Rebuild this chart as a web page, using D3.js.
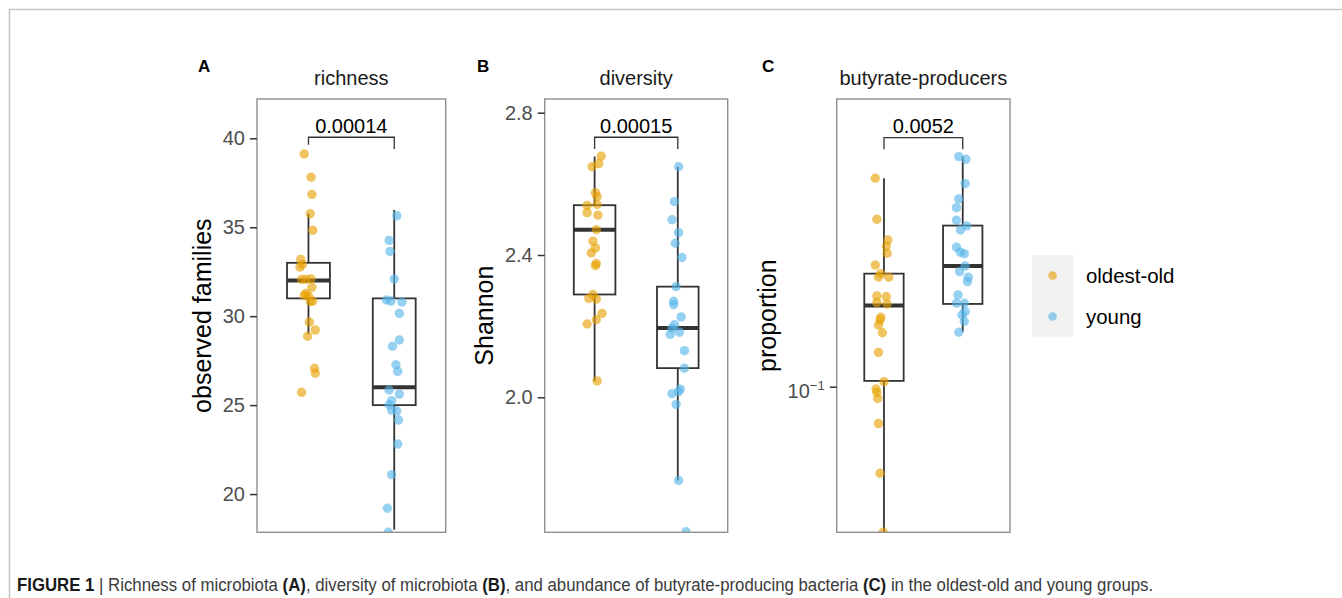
<!DOCTYPE html>
<html><head><meta charset="utf-8">
<script src="https://cdn.jsdelivr.net/npm/d3@7"></script>
<style>
html,body{margin:0;padding:0;background:#fff;}
svg{display:block;font-family:"Liberation Sans",Arial,Helvetica,sans-serif;}
</style></head><body>
<svg id="chart" width="1342" height="598"></svg>
<script>
// ---------------- data ----------------
const groups = ["oldest-old", "young"];
const groupColors = ["#E69F00", "#56B4E9"];
const panelTitles = ["richness", "diversity", "butyrate-producers"];
const panelLetters = ["A", "B", "C"];
const yTitles = ["observed families", "Shannon", "proportion"];
const pLabels = ["0.00014", "0.00015", "0.0052"];

const richnessTicks = [20, 25, 30, 35, 40];
const diversityTicks = [2.0, 2.4, 2.8];
const butyrateTicks = [0.1];

const richnessDomain = [17.85, 42.21];
const diversityDomain = [1.6205, 2.8385];
const butyrateDomain = [0.04747, 0.4357];

// boxplot stats: [lower whisker, Q1, median, Q3, upper whisker]
const richnessBoxOld = [29.0, 31, 32, 33, 35.76];
const richnessBoxYoung = [18.0, 25, 26, 31, 35.97];
const diversityBoxOld = [2.046, 2.289, 2.471, 2.54, 2.677];
const diversityBoxYoung = [1.766, 2.082, 2.195, 2.311, 2.648];
const butyrateBoxOld = [0.046, 0.103, 0.1514, 0.1783, 0.2904];
const butyrateBoxYoung = [0.1325, 0.1527, 0.1854, 0.228, 0.3245];

// significance bracket heights (data units)
const richnessBracket = 40.06;
const diversityBracket = 2.731;
const butyrateBracket = 0.3576;

// individual samples (value) and horizontal jitter (category units)
const richnessOld = [39.12, 37.82, 36.85, 35.76, 34.83, 33.19, 32.91, 32.76, 32.07, 32.07, 32.1, 31.62, 31.28, 31.17, 31.13, 30.85, 30.83, 29.67, 29.22, 28.87, 27.07, 26.79, 25.72];
const richnessOldJitter = [-0.05, 0.03, 0.04, 0.02, 0.05, -0.09, -0.07, -0.10, -0.08, -0.03, 0.03, 0.04, -0.03, -0.05, 0.0, 0.05, 0.02, 0.01, 0.08, -0.01, 0.07, 0.08, -0.08];
const richnessYoung = [35.65, 34.26, 33.64, 32.09, 30.91, 30.85, 30.8, 30.16, 28.66, 28.31, 27.27, 26.9, 25.85, 25.62, 25.25, 25.02, 24.72, 24.67, 24.16, 22.81, 21.09, 19.2, 17.85];
const richnessYoungJitter = [0.03, -0.06, -0.05, 0.0, -0.09, -0.04, 0.09, 0.06, 0.06, -0.02, 0.02, 0.04, -0.06, 0.06, -0.03, -0.06, -0.03, 0.03, 0.05, 0.04, -0.03, -0.08, -0.07];

const diversityOld = [2.678, 2.657, 2.648, 2.575, 2.564, 2.539, 2.542, 2.519, 2.512, 2.471, 2.439, 2.42, 2.406, 2.376, 2.37, 2.289, 2.278, 2.276, 2.236, 2.218, 2.206, 2.046];
const diversityOldJitter = [0.08, 0.05, -0.03, 0.01, 0.03, -0.09, 0.03, -0.09, 0.04, 0.02, -0.02, 0.01, -0.04, 0.02, 0.01, -0.02, -0.07, 0.02, 0.09, 0.02, -0.09, 0.03];
const diversityYoung = [2.648, 2.55, 2.499, 2.463, 2.433, 2.393, 2.311, 2.27, 2.26, 2.226, 2.204, 2.194, 2.183, 2.177, 2.131, 2.082, 2.023, 2.016, 2.01, 1.98, 1.766, 1.622];
const diversityYoungJitter = [0.01, -0.04, -0.07, 0.01, -0.03, 0.05, -0.02, -0.05, -0.05, 0.04, -0.04, -0.07, 0.02, -0.09, 0.08, 0.08, 0.03, 0.01, -0.07, -0.02, 0.01, 0.10];

const butyrateOld = [0.2904, 0.2355, 0.2118, 0.2051, 0.1979, 0.1864, 0.1783, 0.1753, 0.1751, 0.1591, 0.1586, 0.1537, 0.1527, 0.1426, 0.1406, 0.1371, 0.1318, 0.1192, 0.1026, 0.0988, 0.0970, 0.0942, 0.0828, 0.0642, 0.0475];
const butyrateOldJitter = [-0.11, -0.09, 0.05, 0.03, 0.04, -0.11, -0.04, -0.07, 0.06, -0.09, 0.03, -0.09, 0.04, -0.04, -0.05, -0.07, -0.02, -0.07, 0.0, -0.10, -0.09, -0.08, -0.07, -0.05, -0.01];
const butyrateYoung = [0.3245, 0.320, 0.2826, 0.2613, 0.2499, 0.2343, 0.2276, 0.2229, 0.2041, 0.1989, 0.1975, 0.1854, 0.1801, 0.1751, 0.1712, 0.1599, 0.1532, 0.1532, 0.1468, 0.1443, 0.1397, 0.1321];
const butyrateYoungJitter = [-0.05, 0.04, 0.03, -0.05, -0.08, -0.08, 0.05, -0.03, -0.08, -0.03, 0.02, 0.03, -0.04, 0.07, 0.06, -0.06, -0.08, 0.02, 0.03, -0.01, 0.02, -0.05];

const captionParts = [
  ["FIGURE 1", true], [" | Richness of microbiota ", false], ["(A)", true],
  [", diversity of microbiota ", false], ["(B)", true],
  [", and abundance of butyrate-producing bacteria ", false], ["(C)", true],
  [" in the oldest-old and young groups.", false]
];

// ---------------- drawing ----------------
const svg = d3.select("#chart");

// outer figure frame
svg.append("rect").attr("x", 9.5).attr("y", 9.5).attr("width", 1400).attr("height", 700)
  .attr("fill", "none").attr("stroke", "#c4c4c4").attr("stroke-width", 1.5);

const panels = [
  { left: 257, right: 445.7, letterX: 198, domain: richnessDomain, ticks: richnessTicks, log: false,
    boxes: [richnessBoxOld, richnessBoxYoung], pts: [[richnessOld, richnessOldJitter], [richnessYoung, richnessYoungJitter]],
    bracket: richnessBracket, tips: [7.5, 11.7] },
  { left: 544.7, right: 727.7, letterX: 477, domain: diversityDomain, ticks: diversityTicks, log: false,
    boxes: [diversityBoxOld, diversityBoxYoung], pts: [[diversityOld, diversityOldJitter], [diversityYoung, diversityYoungJitter]],
    bracket: diversityBracket, tips: [11.7, 11.7], fmt: d3.format(".1f") },
  { left: 836.7, right: 1010, letterX: 762, domain: butyrateDomain, ticks: butyrateTicks, log: true,
    boxes: [butyrateBoxOld, butyrateBoxYoung], pts: [[butyrateOld, butyrateOldJitter], [butyrateYoung, butyrateYoungJitter]],
    bracket: butyrateBracket, tips: [11.7, 11.7] }
];
const panelTop = 99, panelBottom = 532.3;
const defs = svg.append("defs");

panels.forEach((p, pi) => {
  const x = d3.scaleLinear().domain([0.4, 2.6]).range([p.left, p.right]);
  const y = (p.log ? d3.scaleLog() : d3.scaleLinear()).domain(p.domain).range([panelBottom, panelTop]);
  const g = svg.append("g");

  defs.append("clipPath").attr("id", "clip" + pi).append("rect")
    .attr("x", p.left).attr("y", panelTop).attr("width", p.right - p.left).attr("height", panelBottom - panelTop);
  const inner = g.append("g").attr("clip-path", `url(#clip${pi})`);

  // boxplots
  p.boxes.forEach((b, gi) => {
    const cx = x(gi + 1), x0 = x(gi + 1 - 0.25), x1 = x(gi + 1 + 0.25);
    inner.append("line").attr("x1", cx).attr("x2", cx).attr("y1", y(b[0])).attr("y2", y(b[1]))
      .attr("stroke", "#333").attr("stroke-width", 1.8);
    inner.append("line").attr("x1", cx).attr("x2", cx).attr("y1", y(b[3])).attr("y2", y(b[4]))
      .attr("stroke", "#333").attr("stroke-width", 1.8);
    inner.append("rect").attr("x", x0).attr("y", y(b[3])).attr("width", x1 - x0).attr("height", y(b[1]) - y(b[3]))
      .attr("fill", "none").attr("stroke", "#333").attr("stroke-width", 1.8);
    inner.append("line").attr("x1", x0).attr("x2", x1).attr("y1", y(b[2])).attr("y2", y(b[2]))
      .attr("stroke", "#333").attr("stroke-width", 4);
  });

  // jittered points
  p.pts.forEach(([vals, jit], gi) => {
    inner.selectAll(null).data(vals).enter().append("circle")
      .attr("cx", (d, i) => x(gi + 1 + jit[i])).attr("cy", d => y(d)).attr("r", 4.7)
      .attr("fill", groupColors[gi]).attr("fill-opacity", 0.62);
  });

  // panel border
  g.append("rect").attr("x", p.left).attr("y", panelTop).attr("width", p.right - p.left).attr("height", panelBottom - panelTop)
    .attr("fill", "none").attr("stroke", "#8f8f8f").attr("stroke-width", 1.4);

  // y axis
  const axis = d3.axisLeft(y).tickValues(p.ticks).tickSize(7).tickPadding(5)
    .tickFormat(p.log ? (() => "") : (p.fmt || d3.format("d")));
  const ag = g.append("g").attr("transform", `translate(${p.left},0)`).call(axis);
  ag.select(".domain").remove();
  ag.selectAll(".tick line").attr("stroke", "#333").attr("stroke-width", 1.5);
  ag.selectAll(".tick text").attr("font-size", 20).attr("fill", "#4d4d4d")
    .attr("font-family", "'Liberation Sans', Arial, sans-serif");
  if (p.log) {
    ag.selectAll(".tick text").each(function (d) {
      const t = d3.select(this).attr("dy", "0.55em");
      const e = Math.round(Math.log10(d));
      t.append("tspan").text("10");
      t.append("tspan").attr("dy", "-0.62em").attr("font-size", 13).text("\u2212" + Math.abs(e));
    });
  }
  const labelLeft = d3.min(ag.selectAll(".tick text").nodes(), n => n.getBBox().x) + p.left;

  // y title
  svg.append("text").attr("transform", `translate(${labelLeft - 11.5},${(panelTop + panelBottom) / 2}) rotate(-90)`)
    .attr("text-anchor", "middle").attr("font-size", 25).attr("fill", "#000").text(yTitles[pi]);

  // strip title
  svg.append("text").attr("x", (p.left + p.right) / 2).attr("y", 85).attr("text-anchor", "middle")
    .attr("font-size", 20).attr("fill", "#1a1a1a").text(panelTitles[pi]);

  // panel letter
  svg.append("text").attr("x", p.letterX).attr("y", 72).attr("font-size", 17).attr("font-weight", "bold")
    .attr("fill", "#000").text(panelLetters[pi]);

  // significance bracket
  const by = y(p.bracket), bx1 = x(1), bx2 = x(2);
  g.append("path").attr("d", `M${bx1},${by + p.tips[0]}V${by}H${bx2}V${by + p.tips[1]}`)
    .attr("fill", "none").attr("stroke", "#333").attr("stroke-width", 1.3);
  g.append("text").attr("x", (bx1 + bx2) / 2).attr("y", by - 4.5).attr("text-anchor", "middle")
    .attr("font-size", 20).attr("fill", "#000").text(pLabels[pi]);
});

// legend
const lg = svg.append("g");
lg.append("rect").attr("x", 1032.3).attr("y", 255).attr("width", 41).attr("height", 81.7).attr("fill", "#f2f2f2");
groups.forEach((gname, i) => {
  const cy = 275.5 + i * 41;
  lg.append("circle").attr("cx", 1052.6).attr("cy", cy).attr("r", 4.3)
    .attr("fill", groupColors[i]).attr("fill-opacity", 0.62);
  lg.append("text").attr("x", 1086).attr("y", cy + 7.5).attr("font-size", 20.4).attr("fill", "#000").text(gname);
});

// caption
const cap = svg.append("text").attr("font-family", "'Liberation Sans',Arial,sans-serif")
  .attr("font-size", 18.5).attr("fill", "#3a3a3a");
captionParts.forEach(([s, b]) => {
  cap.append("tspan").attr("font-weight", b ? "bold" : "normal").attr("fill", b ? "#1a1a1a" : "#3a3a3a").text(s);
});
const cw = cap.node().getComputedTextLength();
cap.attr("transform", `translate(17,590.5) scale(${1137 / cw},1)`);
</script>
</body></html>
